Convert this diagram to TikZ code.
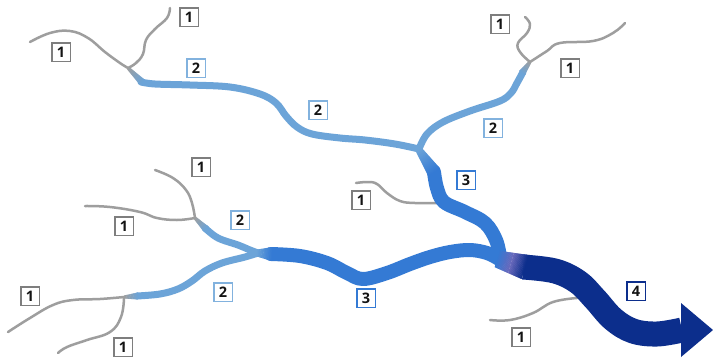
\documentclass[tikz,border=0pt]{standalone}
\usepackage{fontspec}
\setmainfont{Open Sans}
\usetikzlibrary{calc}

\definecolor{rgray}{RGB}{158,158,158}
\definecolor{rlight}{RGB}{108,164,216}
\definecolor{rmid}{RGB}{52,122,212}
\definecolor{rpurple}{RGB}{104,104,188}
\definecolor{rdark}{RGB}{12,46,140}

% colour/width blend along a straight stretch: from #1 to #2, colour #3 -> #4, width #5 -> #6 (pt)
\newcommand\blendseg[6]{%
  \foreach \k in {0,...,23}{%
    \pgfmathsetmacro\ta{\k/24}%
    \pgfmathsetmacro\tb{min((\k+1.6)/24,1)}%
    \pgfmathtruncatemacro\pc{100*(\k+0.5)/24}%
    \pgfmathsetmacro\lw{#5+(#6-#5)*(\k+0.5)/24}%
    \draw[line width=\lw pt, color={#4!\pc!#3}, line cap=butt]
      ($(#1)!\ta!(#2)$) -- ($(#1)!\tb!(#2)$);
  }}

\tikzset{
  ord1/.style={draw=rgray, line width=2.5pt, line cap=round, line join=round},
  ord2/.style={draw=rlight, line width=7pt, line cap=round, line join=round},
  ord3/.style={draw=rmid, line width=14pt, line cap=round, line join=round},
  ord4/.style={draw=rdark, line width=25pt, line cap=butt, line join=round},
  tag/.style={fill=white, line width=1.5pt, minimum size=18.5pt, inner sep=0pt,
    font=\bfseries\fontsize{14.5}{14.5}\selectfont, text=black!92},
  tag1/.style={tag, draw=rgray!80!black},
  tag2/.style={tag, draw=rlight!85!white},
  tag3/.style={tag, draw=rmid},
  tag4/.style={tag, draw=rdark},
}

\begin{document}
\begin{tikzpicture}[x=1pt, y=-1pt]
\useasboundingbox (0,0) rectangle (713,360);
\fill[white] (0,0) rectangle (713,360);

% junction points
\coordinate (J1) at (128,68);
\coordinate (T1) at (142,82);
\coordinate (J2) at (530,62);
\coordinate (T2) at (522,73);
\coordinate (J3) at (419,150);
\coordinate (T3) at (434,172);
\coordinate (J6) at (195,218);
\coordinate (T6) at (206,229);
\coordinate (J7) at (124,297);
\coordinate (T7) at (138,296);
\coordinate (J4) at (257,253);
\coordinate (T4) at (272,254);
\coordinate (J5) at (497,259);
\coordinate (M5) at (511,263);
\coordinate (T5) at (525,267);

% ---- first-order headwaters (grey)
\draw[ord1] plot[smooth, tension=0.7] coordinates {(30,42) (50,33) (70,31) (88,38) (105,52) (120,63) (128,68)};
\draw[ord1] plot[smooth, tension=0.7] coordinates {(170,8) (167,18) (155,29) (146,40) (143,54) (136,63) (128,68)};
\draw[ord1] plot[smooth, tension=0.7] coordinates {(525,17) (530,24) (527,33) (518,43) (520,52) (530,62)};
\draw[ord1] plot[smooth, tension=0.7] coordinates {(625,23) (613,33) (593,41) (560,43) (547,51) (530,62)};
\draw[ord1] plot[smooth, tension=0.7] coordinates {(155,170) (173,178) (186,190) (192,203) (195,218)};
\draw[ord1] plot[smooth, tension=0.7] coordinates {(85,206) (110,207) (140,212) (157,218) (177,220) (195,218)};
\draw[ord1] plot[smooth, tension=0.7] coordinates {(8,332) (30,318) (53,305) (73,300) (100,299) (124,297)};
\draw[ord1] plot[smooth, tension=0.7] coordinates {(58,353) (67,347) (87,340) (110,332) (121,317) (124,298)};
\draw[ord1] plot[smooth, tension=0.7] coordinates {(356,183) (368,182) (377,184) (387,193) (400,201) (415,203) (438,203)};
\draw[ord1] plot[smooth, tension=0.7] coordinates {(490,320) (510,320) (533,313) (553,302) (577,298)};

% ---- second order
\draw[ord2] plot[smooth, tension=0.6] coordinates {(141,82) (155,84) (190,85) (230,87) (260,94) (276,103) (286,116) (297,127) (312,134) (340,138) (365,140) (395,144) (419,149)};
\draw[ord2] plot[smooth, tension=0.6] coordinates {(523,72) (517,83) (511,93) (500,101) (470,111) (443,122) (427,134) (419,149)};
\draw[ord2] plot[smooth, tension=0.6] coordinates {(205,228) (218,238) (238,245) (250,250) (258,253)};
\draw[ord2] plot[smooth, tension=0.6] coordinates {(137,296) (160,294) (178,289) (192,281) (205,271) (222,263) (245,257) (258,253)};

% ---- third order
\draw[ord3] plot[smooth, tension=0.6] coordinates {(434,172) (437,188) (444,202) (465,212) (485,223) (496,240) (500,257)};
\draw[ord3] plot[smooth, tension=0.6] coordinates {(271,254) (300,256) (327,263) (347,273) (363,279) (387,273) (410,264) (430,257) (450,252) (470,250) (487,253) (499,259)};

% ---- fourth order with outlet arrow
\draw[ord4] plot[smooth, tension=0.6] coordinates {(523,267) (555,271) (578,282) (595,299) (613,319) (633,331) (657,334) (682,330)};
\fill[rdark] (681,303) -- (713,330) -- (681,357) -- cycle;

% ---- colour blends at the confluences
\blendseg{J1}{T1}{rgray}{rlight}{3}{7}
\blendseg{J2}{T2}{rgray}{rlight}{3}{7}
\blendseg{J6}{T6}{rgray}{rlight}{3}{7}
\blendseg{J7}{T7}{rgray}{rlight}{3}{7}
\blendseg{J3}{T3}{rlight}{rmid}{7}{14}
\blendseg{J4}{T4}{rlight}{rmid}{7}{14}
\blendseg{J5}{M5}{rmid}{rpurple}{17}{21}
\blendseg{M5}{T5}{rpurple}{rdark}{21}{25}

% ---- order labels
\node[tag1] (a1) at (189,17) {1};
\node[tag1] (a2) at (61,52) {1};
\node[tag1] (a3) at (500,24) {1};
\node[tag1] (a4) at (570,68) {1};
\node[tag1] (a5) at (201,167) {1};
\node[tag1] (a6) at (124,226) {1};
\node[tag1] (a7) at (30,296) {1};
\node[tag1] (a8) at (123,347) {1};
\node[tag1] (a9) at (361,200) {1};
\node[tag1] (a10) at (521,337) {1};
\node[tag2] (b1) at (196,68) {2};
\node[tag2] (b2) at (318,110) {2};
\node[tag2] (b3) at (493,128) {2};
\node[tag2] (b4) at (240,220) {2};
\node[tag2] (b5) at (223,292) {2};
\node[tag3] (c1) at (466,180) {3};
\node[tag3] (c2) at (366,298) {3};
\node[tag4] (d1) at (636,291) {4};
\end{tikzpicture}
\end{document}
